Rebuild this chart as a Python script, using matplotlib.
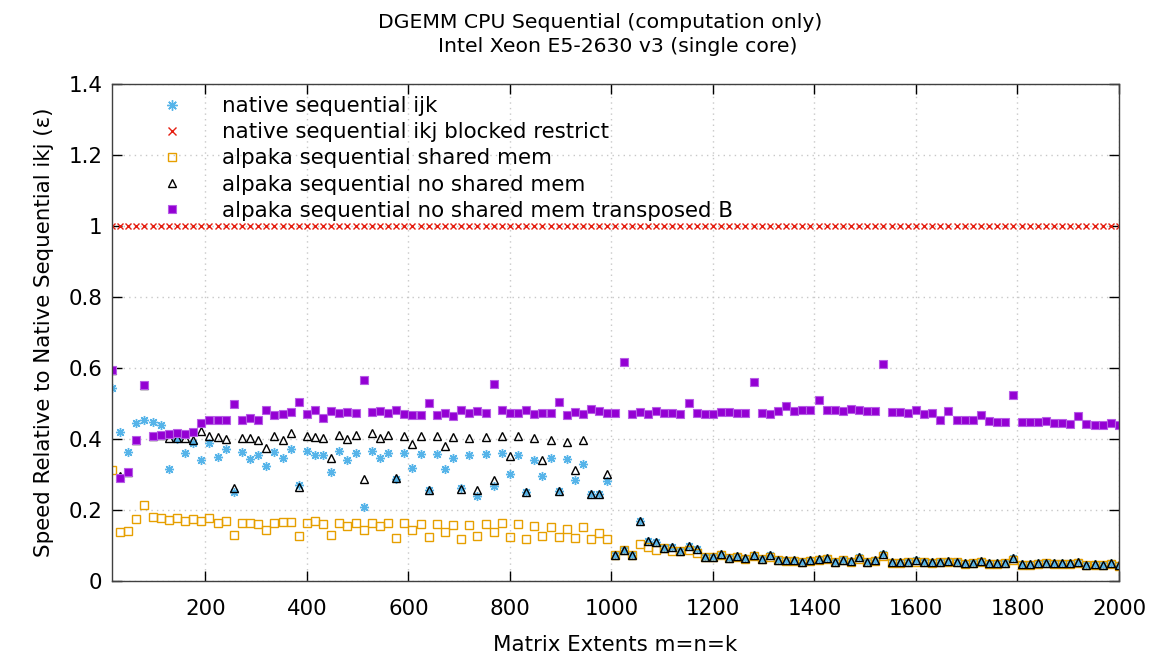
import numpy as np
import matplotlib
matplotlib.use('Agg')
import matplotlib.pyplot as plt

# matrix extents m=n=k
extents = np.arange(16, 2001, 16)

native_ijk = [
    0.544, 0.419, 0.362, 0.445, 0.452, 0.446, 0.439, 0.316, 0.399, 0.359,
    0.388, 0.339, 0.387, 0.349, 0.372, 0.250, 0.362, 0.344, 0.355, 0.324,
    0.362, 0.347, 0.370, 0.270, 0.364, 0.354, 0.354, 0.305, 0.364, 0.339,
    0.361, 0.209, 0.364, 0.345, 0.361, 0.286, 0.359, 0.318, 0.357, 0.256,
    0.357, 0.316, 0.347, 0.261, 0.354, 0.238, 0.357, 0.266, 0.360, 0.300,
    0.354, 0.249, 0.339, 0.296, 0.346, 0.254, 0.344, 0.285, 0.329, 0.245,
    0.245, 0.282, 0.073, 0.087, 0.071, 0.167, 0.111, 0.108, 0.093, 0.096,
    0.085, 0.099, 0.089, 0.066, 0.066, 0.076, 0.064, 0.070, 0.064, 0.073,
    0.061, 0.073, 0.059, 0.057, 0.057, 0.054, 0.057, 0.062, 0.064, 0.054,
    0.059, 0.056, 0.067, 0.054, 0.057, 0.075, 0.053, 0.052, 0.054, 0.058,
    0.054, 0.052, 0.054, 0.055, 0.054, 0.049, 0.051, 0.055, 0.049, 0.049,
    0.051, 0.065, 0.047, 0.047, 0.049, 0.051, 0.049, 0.049, 0.049, 0.054,
    0.045, 0.047, 0.045, 0.051, 0.043,
]

native_ikj_blocked = [1.0] * len(extents)

alpaka_shared = [
    0.313, 0.137, 0.140, 0.175, 0.213, 0.180, 0.177, 0.170, 0.178, 0.167,
    0.173, 0.167, 0.176, 0.162, 0.167, 0.129, 0.162, 0.162, 0.160, 0.142,
    0.162, 0.165, 0.165, 0.127, 0.162, 0.167, 0.160, 0.129, 0.162, 0.155,
    0.162, 0.142, 0.162, 0.155, 0.162, 0.121, 0.162, 0.142, 0.160, 0.124,
    0.160, 0.137, 0.157, 0.118, 0.157, 0.126, 0.160, 0.137, 0.162, 0.124,
    0.160, 0.118, 0.155, 0.127, 0.152, 0.124, 0.147, 0.121, 0.150, 0.118,
    0.134, 0.118, 0.073, 0.087, 0.071, 0.104, 0.094, 0.086, 0.092, 0.085,
    0.085, 0.086, 0.079, 0.066, 0.066, 0.071, 0.064, 0.068, 0.062, 0.070,
    0.060, 0.067, 0.058, 0.056, 0.055, 0.053, 0.055, 0.059, 0.061, 0.053,
    0.057, 0.054, 0.060, 0.052, 0.055, 0.069, 0.051, 0.050, 0.052, 0.054,
    0.052, 0.050, 0.052, 0.052, 0.052, 0.047, 0.049, 0.052, 0.047, 0.047,
    0.049, 0.059, 0.045, 0.045, 0.047, 0.049, 0.047, 0.047, 0.047, 0.051,
    0.043, 0.045, 0.043, 0.048, 0.041,
]

alpaka_noshared = [
    0.594, 0.295, 0.305, 0.395, 0.551, 0.407, 0.410, 0.402, 0.402, 0.402,
    0.395, 0.423, 0.408, 0.404, 0.399, 0.261, 0.401, 0.401, 0.397, 0.373,
    0.407, 0.395, 0.415, 0.264, 0.408, 0.404, 0.401, 0.345, 0.411, 0.399,
    0.411, 0.286, 0.415, 0.402, 0.411, 0.290, 0.408, 0.386, 0.408, 0.256,
    0.408, 0.380, 0.406, 0.258, 0.403, 0.255, 0.406, 0.284, 0.408, 0.352,
    0.408, 0.249, 0.403, 0.340, 0.396, 0.254, 0.392, 0.313, 0.396, 0.245,
    0.245, 0.301, 0.073, 0.087, 0.071, 0.167, 0.111, 0.108, 0.093, 0.096,
    0.085, 0.099, 0.089, 0.066, 0.066, 0.076, 0.064, 0.070, 0.064, 0.073,
    0.061, 0.073, 0.059, 0.057, 0.057, 0.054, 0.057, 0.062, 0.064, 0.054,
    0.059, 0.056, 0.067, 0.054, 0.057, 0.075, 0.053, 0.052, 0.054, 0.058,
    0.054, 0.052, 0.054, 0.055, 0.054, 0.049, 0.051, 0.055, 0.049, 0.049,
    0.051, 0.065, 0.047, 0.047, 0.049, 0.051, 0.049, 0.049, 0.049, 0.054,
    0.045, 0.047, 0.045, 0.051, 0.043,
]

alpaka_transposed = [
    0.594, 0.288, 0.305, 0.395, 0.551, 0.407, 0.410, 0.413, 0.415, 0.413,
    0.419, 0.444, 0.452, 0.454, 0.452, 0.498, 0.453, 0.459, 0.454, 0.480,
    0.467, 0.469, 0.474, 0.502, 0.469, 0.482, 0.459, 0.477, 0.472, 0.474,
    0.472, 0.566, 0.474, 0.477, 0.472, 0.480, 0.469, 0.467, 0.467, 0.500,
    0.467, 0.472, 0.464, 0.480, 0.472, 0.477, 0.472, 0.554, 0.482, 0.472,
    0.472, 0.482, 0.469, 0.472, 0.472, 0.502, 0.467, 0.474, 0.469, 0.485,
    0.477, 0.472, 0.472, 0.615, 0.469, 0.475, 0.469, 0.477, 0.472, 0.472,
    0.469, 0.500, 0.472, 0.469, 0.469, 0.474, 0.474, 0.472, 0.472, 0.561,
    0.472, 0.469, 0.477, 0.492, 0.477, 0.482, 0.480, 0.508, 0.480, 0.482,
    0.477, 0.485, 0.480, 0.477, 0.477, 0.610, 0.474, 0.474, 0.472, 0.480,
    0.469, 0.472, 0.454, 0.477, 0.454, 0.452, 0.452, 0.467, 0.449, 0.446,
    0.446, 0.523, 0.446, 0.446, 0.446, 0.449, 0.443, 0.443, 0.441, 0.465,
    0.441, 0.438, 0.438, 0.444, 0.438,
]

labels = [
    'native sequential ijk',
    'native sequential ikj blocked restrict',
    'alpaka sequential shared mem',
    'alpaka sequential no shared mem',
    'alpaka sequential no shared mem transposed B',
]

fs = 15.4

fig = plt.figure(figsize=(11.58, 6.62), dpi=100)
ax = fig.add_axes([0.0967, 0.1228, 0.8696, 0.7508])

ax.plot(extents, native_ijk, linestyle='none', marker=(8, 2, 0), markersize=6.5,
        markeredgewidth=1.0, color='#56b4e9', label=labels[0])
ax.plot(extents, native_ikj_blocked, linestyle='none', marker='x', markersize=4.5,
        markeredgewidth=1.0, color='#e51e10', label=labels[1])
ax.plot(extents, alpaka_shared, linestyle='none', marker='s', markersize=5.2,
        markerfacecolor='none', markeredgewidth=1.0, color='#e69f00', label=labels[2])
ax.plot(extents, alpaka_noshared, linestyle='none', marker='^', markersize=5.2,
        markerfacecolor='none', markeredgewidth=1.0, color='black', label=labels[3])
ax.plot(extents, alpaka_transposed, linestyle='none', marker='s', markersize=5.6,
        markeredgewidth=0.8, color='#9400d3', markeredgecolor='#b75ce6', label=labels[4])

ax.set_xlim(16, 2000)
ax.set_ylim(0, 1.4)
ax.set_xticks(range(200, 2001, 200))
ax.set_yticks(np.arange(0, 1.41, 0.2))
ax.set_yticklabels(['0', '0.2', '0.4', '0.6', '0.8', '1', '1.2', '1.4'])
ax.tick_params(direction='in', length=7, labelsize=fs, top=True, right=True,
               pad=13, width=1)
ax.tick_params(axis='y', pad=7)
ax.grid(True, linestyle=(0, (1, 3)), color='#c8c8c8', linewidth=1)
for s in ax.spines.values():
    s.set_linewidth(1)
    s.set_color('#404040')

ax.set_xlabel('Matrix Extents m=n=k', fontsize=fs, labelpad=12)
ax.set_ylabel('Speed Relative to Native Sequential ikj (\u03b5)', fontsize=fs, labelpad=10)

fig.text(0.518, 0.966, 'DGEMM CPU Sequential (computation only)', ha='center', va='center', fontsize=14.7)
fig.text(0.533, 0.930, 'Intel Xeon E5-2630 v3 (single core)', ha='center', va='center', fontsize=14.7)

ax.legend(loc='upper left', bbox_to_anchor=(0.130, 0.855), bbox_transform=fig.transFigure,
          frameon=False, fontsize=fs, handlelength=2.0, handletextpad=1.34,
          borderpad=0, borderaxespad=0, labelspacing=0.29, markerscale=1.15)

plt.savefig('out.png')
